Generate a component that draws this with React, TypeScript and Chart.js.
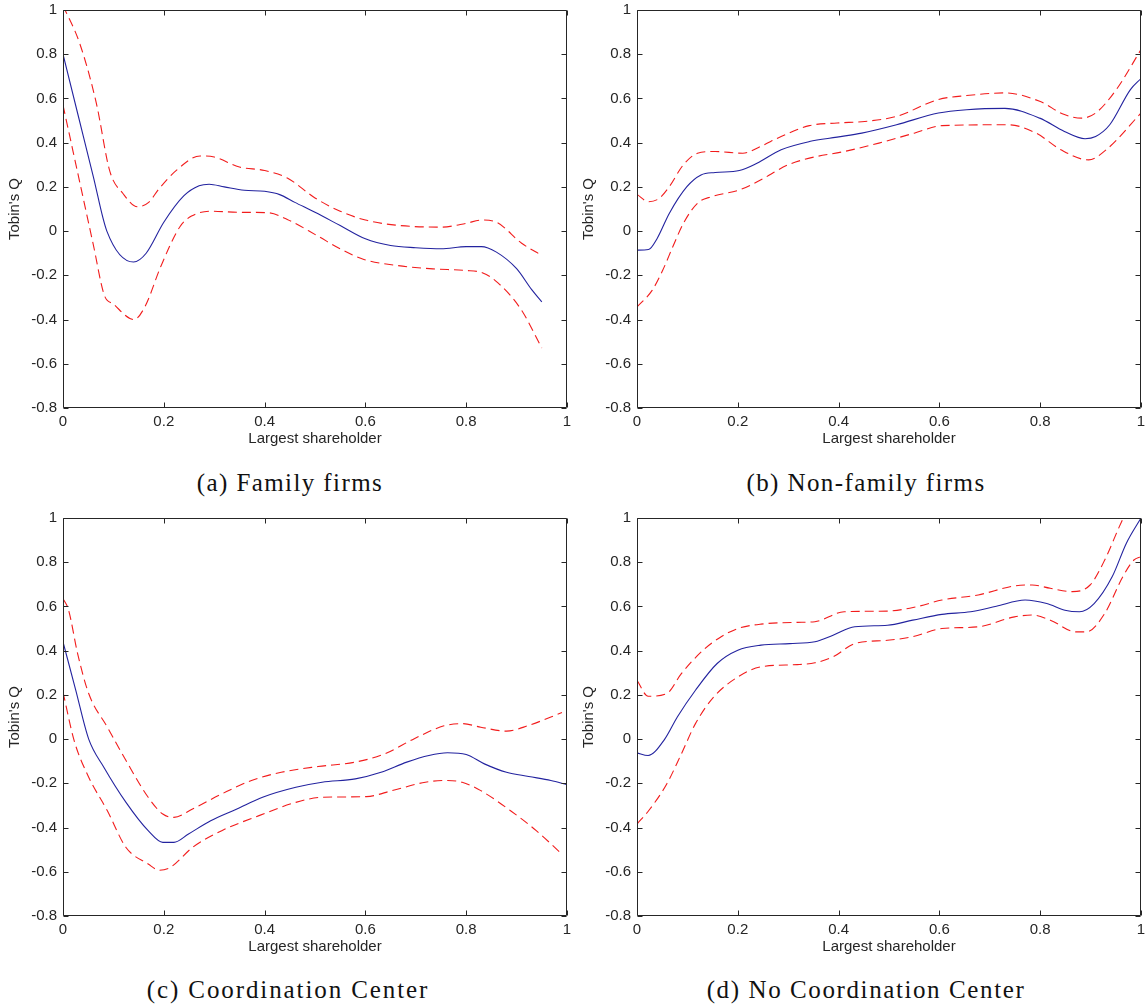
import React, { useEffect, useRef } from 'react';
import { Chart, registerables } from 'chart.js';

Chart.register(...registerables);

// ---------- tick values ----------
const xTickValues = [0, 0.2, 0.4, 0.6, 0.8, 1];
const yTickValues = [-0.8, -0.6, -0.4, -0.2, 0, 0.2, 0.4, 0.6, 0.8, 1];
const xAxisTitle = 'Largest shareholder';
const yAxisTitle = "Tobin's Q";

// ---------- (a) Family firms ----------
const famMeanX = [0, 0.03, 0.06, 0.087, 0.14, 0.165, 0.2, 0.24, 0.27, 0.29, 0.32, 0.36, 0.4, 0.43, 0.46, 0.5, 0.55, 0.6, 0.65, 0.7, 0.75, 0.8, 0.83, 0.86, 0.9, 0.93, 0.95];
const famMeanY = [0.8, 0.524, 0.248, 0.0, -0.14, -0.1, 0.04, 0.16, 0.205, 0.212, 0.2, 0.185, 0.18, 0.165, 0.13, 0.085, 0.025, -0.035, -0.065, -0.075, -0.08, -0.07, -0.07, -0.095, -0.17, -0.265, -0.32];
const famUpX = [0, 0.033, 0.066, 0.093, 0.119, 0.148, 0.17, 0.19, 0.226, 0.272, 0.3, 0.35, 0.4, 0.445, 0.5, 0.55, 0.6, 0.66, 0.75, 0.8, 0.83, 0.86, 0.91, 0.95];
const famUpY = [1.02, 0.85, 0.58, 0.27, 0.17, 0.11, 0.13, 0.19, 0.277, 0.34, 0.335, 0.29, 0.274, 0.24, 0.15, 0.09, 0.05, 0.027, 0.018, 0.035, 0.05, 0.04, -0.055, -0.11];
const famLoX = [0, 0.02, 0.04, 0.06, 0.082, 0.1, 0.141, 0.163, 0.194, 0.232, 0.255, 0.293, 0.35, 0.407, 0.445, 0.506, 0.55, 0.597, 0.658, 0.734, 0.798, 0.833, 0.863, 0.909, 0.95];
const famLoY = [0.57, 0.36, 0.15, -0.06, -0.29, -0.33, -0.4, -0.34, -0.16, 0.02, 0.068, 0.09, 0.085, 0.083, 0.053, -0.023, -0.08, -0.128, -0.154, -0.171, -0.178, -0.189, -0.234, -0.355, -0.529];

// ---------- (b) Non-family firms ----------
const nonMeanX = [0, 0.023, 0.04, 0.064, 0.099, 0.127, 0.155, 0.203, 0.238, 0.286, 0.342, 0.397, 0.446, 0.515, 0.598, 0.654, 0.73, 0.799, 0.848, 0.889, 0.91, 0.938, 0.979, 1];
const nonMeanY = [-0.086, -0.083, -0.033, 0.08, 0.201, 0.254, 0.265, 0.274, 0.307, 0.368, 0.405, 0.425, 0.443, 0.481, 0.534, 0.549, 0.555, 0.511, 0.451, 0.418, 0.428, 0.481, 0.64, 0.69];
const nonUpX = [0, 0.023, 0.044, 0.064, 0.092, 0.12, 0.155, 0.21, 0.245, 0.286, 0.342, 0.397, 0.452, 0.515, 0.598, 0.654, 0.73, 0.799, 0.848, 0.882, 0.91, 0.951, 1];
const nonUpY = [0.166, 0.133, 0.148, 0.201, 0.3, 0.352, 0.36, 0.352, 0.383, 0.428, 0.477, 0.489, 0.496, 0.519, 0.595, 0.613, 0.625, 0.587, 0.527, 0.511, 0.534, 0.64, 0.821];
const nonLoX = [0, 0.03, 0.051, 0.071, 0.092, 0.12, 0.148, 0.203, 0.245, 0.3, 0.342, 0.411, 0.48, 0.55, 0.605, 0.737, 0.792, 0.841, 0.896, 0.931, 1];
const nonLoY = [-0.343, -0.268, -0.177, -0.071, 0.035, 0.126, 0.156, 0.186, 0.231, 0.3, 0.33, 0.36, 0.398, 0.443, 0.477, 0.481, 0.443, 0.368, 0.322, 0.368, 0.534];

// ---------- (c) Coordination Center ----------
const ccMeanX = [0, 0.025, 0.051, 0.081, 0.125, 0.169, 0.198, 0.22, 0.249, 0.293, 0.345, 0.396, 0.462, 0.514, 0.58, 0.631, 0.682, 0.726, 0.763, 0.8, 0.836, 0.88, 0.924, 0.968, 1];
const ccMeanY = [0.44, 0.224, 0.0, -0.127, -0.286, -0.414, -0.467, -0.467, -0.429, -0.369, -0.316, -0.263, -0.218, -0.195, -0.18, -0.15, -0.104, -0.074, -0.062, -0.07, -0.112, -0.15, -0.169, -0.187, -0.206];
const ccUpX = [0, 0.011, 0.029, 0.051, 0.088, 0.125, 0.169, 0.198, 0.22, 0.257, 0.315, 0.374, 0.433, 0.506, 0.58, 0.638, 0.697, 0.756, 0.792, 0.829, 0.88, 0.924, 0.99];
const ccUpY = [0.636, 0.584, 0.387, 0.206, 0.054, -0.097, -0.263, -0.339, -0.354, -0.316, -0.248, -0.187, -0.15, -0.124, -0.104, -0.067, 0.002, 0.06, 0.07, 0.054, 0.036, 0.062, 0.12];
const ccLoX = [0, 0.022, 0.051, 0.088, 0.125, 0.169, 0.191, 0.213, 0.257, 0.315, 0.389, 0.462, 0.514, 0.602, 0.653, 0.719, 0.763, 0.792, 0.829, 0.888, 0.939, 0.99];
const ccLoY = [0.213, -0.006, -0.172, -0.324, -0.49, -0.565, -0.593, -0.58, -0.49, -0.414, -0.346, -0.286, -0.263, -0.26, -0.233, -0.195, -0.187, -0.195, -0.233, -0.324, -0.414, -0.52];

// ---------- (d) No Coordination Center ----------
const nccMeanX = [0, 0.022, 0.055, 0.08, 0.116, 0.159, 0.2, 0.246, 0.303, 0.353, 0.389, 0.432, 0.497, 0.547, 0.605, 0.662, 0.713, 0.77, 0.813, 0.849, 0.878, 0.907, 0.943, 0.971, 1];
const nccMeanY = [-0.062, -0.074, 0.0, 0.1, 0.221, 0.342, 0.402, 0.425, 0.432, 0.44, 0.47, 0.508, 0.515, 0.538, 0.564, 0.576, 0.601, 0.629, 0.613, 0.583, 0.576, 0.613, 0.735, 0.886, 1.0];
const nccUpX = [0, 0.022, 0.059, 0.088, 0.131, 0.167, 0.2, 0.246, 0.318, 0.353, 0.411, 0.497, 0.555, 0.605, 0.677, 0.749, 0.784, 0.82, 0.864, 0.899, 0.928, 0.957, 0.975];
const nccUpY = [0.266, 0.194, 0.206, 0.296, 0.402, 0.463, 0.5, 0.52, 0.528, 0.531, 0.576, 0.579, 0.599, 0.629, 0.652, 0.693, 0.697, 0.682, 0.667, 0.697, 0.81, 0.961, 1.05];
const nccLoX = [0, 0.023, 0.059, 0.088, 0.116, 0.152, 0.2, 0.246, 0.318, 0.353, 0.389, 0.432, 0.497, 0.547, 0.605, 0.677, 0.749, 0.784, 0.82, 0.871, 0.892, 0.928, 0.964, 0.986, 1];
const nccLoY = [-0.384, -0.324, -0.203, -0.067, 0.07, 0.19, 0.281, 0.327, 0.337, 0.345, 0.372, 0.432, 0.447, 0.463, 0.5, 0.508, 0.553, 0.561, 0.538, 0.485, 0.485, 0.568, 0.735, 0.81, 0.825];

const captions = ['(a) Family firms', '(b) Non-family firms', '(c) Coordination Center', '(d) No Coordination Center'];

// ---------- styles ----------
const BLUE = '#23239f';
const RED = '#f21c1c';
const AXIS = '#262626';
const TICK_FONT = { family: 'Liberation Sans, Arial, sans-serif', size: 15 };

const toPts = (xs: number[], ys: number[]) => xs.map((x, i) => ({ x, y: ys[i] }));
const fmt = (v: number) => String(parseFloat(Number(v).toFixed(1)));

const framePlugin = {
  id: 'matlabFrame',
  afterDatasetsDraw(chart: any) {
    const { ctx, chartArea } = chart;
    const xs = chart.scales.x;
    const ys = chart.scales.y;
    const L = Math.round(chartArea.left) + 0.5;
    const R = Math.round(chartArea.right) - 0.5;
    const T = Math.round(chartArea.top) + 0.5;
    const B = Math.round(chartArea.bottom) - 0.5;
    ctx.save();
    ctx.strokeStyle = AXIS;
    ctx.lineWidth = 1;
    ctx.setLineDash([]);
    ctx.beginPath();
    ctx.rect(L, T, R - L, B - T);
    ctx.stroke();
    const len = 5;
    ctx.beginPath();
    xTickValues.forEach((v) => {
      const p = Math.round(xs.getPixelForValue(v)) + 0.5;
      ctx.moveTo(p, B); ctx.lineTo(p, B - len);
      ctx.moveTo(p, T); ctx.lineTo(p, T + len);
    });
    yTickValues.forEach((v) => {
      const p = Math.round(ys.getPixelForValue(v)) + 0.5;
      ctx.moveTo(L, p); ctx.lineTo(L + len, p);
      ctx.moveTo(R, p); ctx.lineTo(R - len, p);
    });
    ctx.stroke();
    ctx.restore();
  },
};

type PanelProps = {
  mean: [number[], number[]];
  up: [number[], number[]];
  lo: [number[], number[]];
};

function Panel({ mean, up, lo }: PanelProps) {
  const ref = useRef<HTMLCanvasElement | null>(null);
  useEffect(() => {
    if (!ref.current) return;
    const dashed = { borderColor: RED, borderWidth: 1.1, borderDash: [9, 5], pointRadius: 0, cubicInterpolationMode: 'monotone' as const, fill: false };
    const chart = new Chart(ref.current, {
      type: 'line',
      data: {
        datasets: [
          { data: toPts(up[0], up[1]), ...dashed },
          { data: toPts(lo[0], lo[1]), ...dashed },
          { data: toPts(mean[0], mean[1]), borderColor: BLUE, borderWidth: 1.1, pointRadius: 0, cubicInterpolationMode: 'monotone', fill: false },
        ],
      },
      options: {
        animation: false,
        responsive: false,
        maintainAspectRatio: false,
        events: [],
        layout: { padding: { top: 10, right: 7, left: 0, bottom: 0 } },
        plugins: { legend: { display: false }, tooltip: { enabled: false }, title: { display: false } },
        scales: {
          x: {
            type: 'linear',
            min: 0,
            max: 1,
            afterBuildTicks: (s: any) => { s.ticks = xTickValues.map((v) => ({ value: v })); },
            afterFit: (s: any) => { s.height = 52; s.paddingLeft = 0; s.paddingRight = 0; },
            grid: { display: false, drawTicks: false },
            border: { display: false },
            ticks: { padding: 5, color: AXIS, font: TICK_FONT, maxRotation: 0, autoSkip: false, callback: (v: any) => fmt(v) },
            title: { display: true, text: xAxisTitle, color: AXIS, font: TICK_FONT, padding: { top: 0, bottom: 12 } },
          },
          y: {
            type: 'linear',
            min: -0.8,
            max: 1,
            afterBuildTicks: (s: any) => { s.ticks = yTickValues.map((v) => ({ value: v })); },
            afterFit: (s: any) => { s.width = 63; s.paddingTop = 0; s.paddingBottom = 0; },
            grid: { display: false, drawTicks: false },
            border: { display: false },
            ticks: { padding: 6, color: AXIS, font: TICK_FONT, autoSkip: false, callback: (v: any) => fmt(v) },
            title: { display: true, text: yAxisTitle, color: AXIS, font: TICK_FONT, padding: { top: 6, bottom: 0 } },
          },
        },
      },
      plugins: [framePlugin],
    } as any);
    return () => chart.destroy();
  }, []);
  return <canvas ref={ref} width={574} height={460} style={{ display: 'block', width: 574, height: 460 }} />;
}

const captionStyle = (cx: number, top: number, spacing: number): React.CSSProperties => ({
  position: 'absolute',
  left: cx,
  top,
  transform: 'translateX(-50%)',
  whiteSpace: 'nowrap',
  fontFamily: '"Liberation Serif", "Times New Roman", serif',
  fontSize: 25,
  lineHeight: '30px',
  letterSpacing: spacing + 'px',
  color: '#111',
});

export default function App() {
  const panels = [
    { left: 0, top: 0, mean: [famMeanX, famMeanY], up: [famUpX, famUpY], lo: [famLoX, famLoY] },
    { left: 574, top: 0, mean: [nonMeanX, nonMeanY], up: [nonUpX, nonUpY], lo: [nonLoX, nonLoY] },
    { left: 0, top: 508, mean: [ccMeanX, ccMeanY], up: [ccUpX, ccUpY], lo: [ccLoX, ccLoY] },
    { left: 574, top: 508, mean: [nccMeanX, nccMeanY], up: [nccUpX, nccUpY], lo: [nccLoX, nccLoY] },
  ] as any[];
  const capPos = [
    [290, 468, 1.4],
    [866, 468, 1.4],
    [288, 975, 1.9],
    [866, 975, 1.6],
  ];
  return (
    <div style={{ position: 'absolute', left: 0, top: 0, width: 1148, height: 1008, background: '#fff', overflow: 'hidden' }}>
      {panels.map((p, i) => (
        <div key={i} style={{ position: 'absolute', left: p.left, top: p.top, width: 574, height: 460 }}>
          <Panel mean={p.mean} up={p.up} lo={p.lo} />
        </div>
      ))}
      {captions.map((c, i) => (
        <div key={'c' + i} style={captionStyle(capPos[i][0], capPos[i][1], capPos[i][2])}>{c}</div>
      ))}
    </div>
  );
}
